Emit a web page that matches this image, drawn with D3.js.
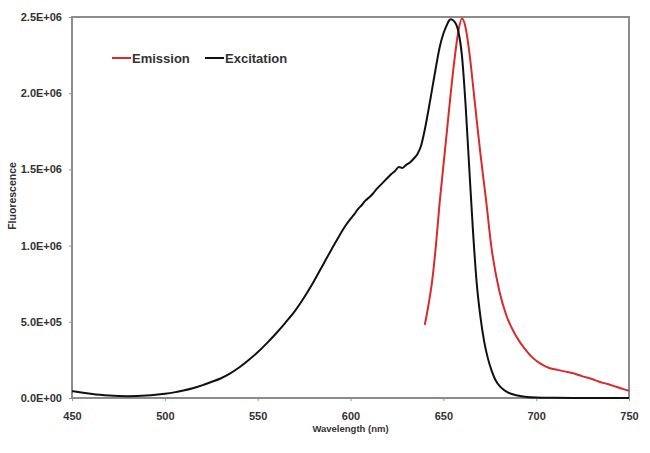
<!DOCTYPE html>
<html>
<head>
<meta charset="utf-8">
<script src="https://cdn.jsdelivr.net/npm/d3@7"></script>
<style>
  body { margin: 0; background: #fff; }
  svg text { font-family: Arial, "Liberation Sans", sans-serif; font-weight: bold; }
</style>
</head>
<body>
<div id="chart"></div>
<script>
// Wavelength (nm) / fluorescence values
const excitationNm = [
  450, 455, 460, 465, 470, 475, 480, 485, 490, 495, 500, 505, 510, 515, 520, 525,
  530, 535, 540, 545, 550, 555, 560, 565, 570, 575, 580, 585, 590, 594, 597, 600,
  602, 604, 606, 608, 610, 612, 614, 616, 618, 620, 622, 624, 626, 628, 630, 632,
  634, 636, 638, 640, 642, 644, 646, 648, 650, 652, 653, 654, 656, 658, 660, 662,
  664, 666, 668, 670, 672, 674, 676, 678, 681, 685, 690, 695, 700, 710, 720, 735, 750
]
const excitationVal = [
  4.5e4, 3.6e4, 2.8e4, 2.1e4, 1.6e4, 1.3e4, 1.2e4, 1.3e4, 1.6e4, 2.1e4, 2.8e4, 3.7e4, 4.9e4, 6.4e4, 8.3e4, 1.05e5,
  1.28e5, 1.6e5, 2.0e5, 2.48e5, 3.0e5, 3.6e5, 4.25e5, 4.95e5, 5.7e5, 6.6e5, 7.6e5, 8.7e5, 9.8e5, 1.065e6, 1.125e6, 1.175e6,
  1.205e6, 1.24e6, 1.265e6, 1.295e6, 1.315e6, 1.34e6, 1.37e6, 1.395e6, 1.42e6, 1.445e6, 1.47e6, 1.49e6, 1.515e6, 1.51e6, 1.53e6, 1.545e6,
  1.57e6, 1.60e6, 1.655e6, 1.76e6, 1.89e6, 2.03e6, 2.17e6, 2.30e6, 2.39e6, 2.45e6, 2.475e6, 2.485e6, 2.47e6, 2.41e6, 2.25e6, 1.92e6,
  1.50e6, 1.09e6, 7.5e5, 5.3e5, 3.7e5, 2.6e5, 1.8e5, 1.2e5, 7e4, 3.5e4, 1.6e4, 7e3, 3e3, 1e3, 0, 0, 0
]
const emissionNm = [
  640, 642, 644, 646, 648, 650, 652, 654, 656, 658, 660, 662, 664, 666, 668, 670,
  673, 676, 680, 684, 689, 694, 698, 703, 707, 712, 716, 720, 725, 730, 734,
  739, 743, 747, 750
]
const emissionVal = [
  4.8e5, 6.1e5, 7.7e5, 1.0e6, 1.28e6, 1.52e6, 1.76e6, 2.0e6, 2.22e6, 2.40e6, 2.49e6, 2.43e6, 2.27e6, 2.05e6, 1.82e6, 1.60e6,
  1.30e6, 9.8e5, 7.1e5, 5.4e5, 4.1e5, 3.2e5, 2.65e5, 2.2e5, 1.97e5, 1.83e5, 1.73e5, 1.62e5, 1.42e5, 1.25e5, 1.07e5,
  9.0e4, 7.4e4, 5.8e4, 4.8e4
]
const xTicks = [450, 500, 550, 600, 650, 700, 750]
const yTicks = [0, 5e5, 1e6, 1.5e6, 2e6, 2.5e6]

const series = [
  { name: 'Emission', color: '#d92b2b', x: emissionNm, y: emissionVal },
  { name: 'Excitation', color: '#111111', x: excitationNm, y: excitationVal }
]

const width = 650
const height = 453
const margin = { top: 17, right: 21, bottom: 55, left: 72 }
const w = width - margin.left - margin.right
const h = height - margin.top - margin.bottom

const x = d3.scaleLinear().domain([450, 750]).range([0, w])
const y = d3.scaleLinear().domain([0, 2.5e6]).range([h, 0])

const svg = d3.select('#chart').append('svg')
  .attr('width', width)
  .attr('height', height)

const g = svg.append('g')
  .attr('transform', 'translate(' + margin.left + ',' + margin.top + ')')

const fmt = v => {
  const e = v === 0 ? 0 : Math.floor(Math.log10(v))
  const m = v / Math.pow(10, e)
  return m.toFixed(1) + 'E+' + String(e).padStart(2, '0')
}

g.append('g')
  .attr('transform', 'translate(0,' + h + ')')
  .call(d3.axisBottom(x).tickValues(xTicks).tickSize(3).tickPadding(11))
  .call(a => a.select('.domain').remove())
  .call(a => a.selectAll('.tick line').attr('stroke', '#999'))
  .call(a => a.selectAll('.tick text').attr('fill', '#333').style('font-size', '11px'))

g.append('g')
  .call(d3.axisLeft(y).tickValues(yTicks).tickFormat(fmt).tickSize(3).tickPadding(7))
  .call(a => a.select('.domain').remove())
  .call(a => a.selectAll('.tick line').attr('stroke', '#999'))
  .call(a => a.selectAll('.tick text').attr('fill', '#333').style('font-size', '11px'))

// plot frame
g.append('rect')
  .attr('width', w)
  .attr('height', h)
  .attr('fill', 'none')
  .attr('stroke', '#8c8c8c')
  .attr('stroke-width', 2)

const line = d3.line()
  .x(d => x(d[0]))
  .y(d => y(d[1]))
  .curve(d3.curveMonotoneX)

g.selectAll('path.data')
  .data(series)
  .enter()
  .append('path')
  .attr('class', 'data')
  .attr('d', s => line(s.x.map((v, i) => [v, s.y[i]])))
  .attr('fill', 'none')
  .attr('stroke', s => s.color)
  .attr('stroke-width', 2)
  .attr('stroke-linejoin', 'round')

// legend
const legend = g.append('g').attr('transform', 'translate(40,41)')
const item = legend.selectAll('g')
  .data(series)
  .enter()
  .append('g')
  .attr('transform', (d, i) => 'translate(' + (i * 93) + ',0)')
item.append('line')
  .attr('x1', 0).attr('x2', 19)
  .attr('stroke', d => d.color)
  .attr('stroke-width', 2)
item.append('text')
  .attr('x', 20)
  .attr('dy', '0.35em')
  .attr('fill', '#333')
  .style('font-size', '13px')
  .text(d => d.name)

svg.append('text')
  .attr('x', margin.left + w / 2)
  .attr('y', 432)
  .attr('text-anchor', 'middle')
  .attr('fill', '#333')
  .style('font-size', '9.5px')
  .text('Wavelength (nm)')

svg.append('text')
  .attr('transform', 'translate(16,196) rotate(-90)')
  .attr('text-anchor', 'middle')
  .attr('fill', '#333')
  .style('font-size', '10.5px')
  .text('Fluorescence')
</script>
</body>
</html>
